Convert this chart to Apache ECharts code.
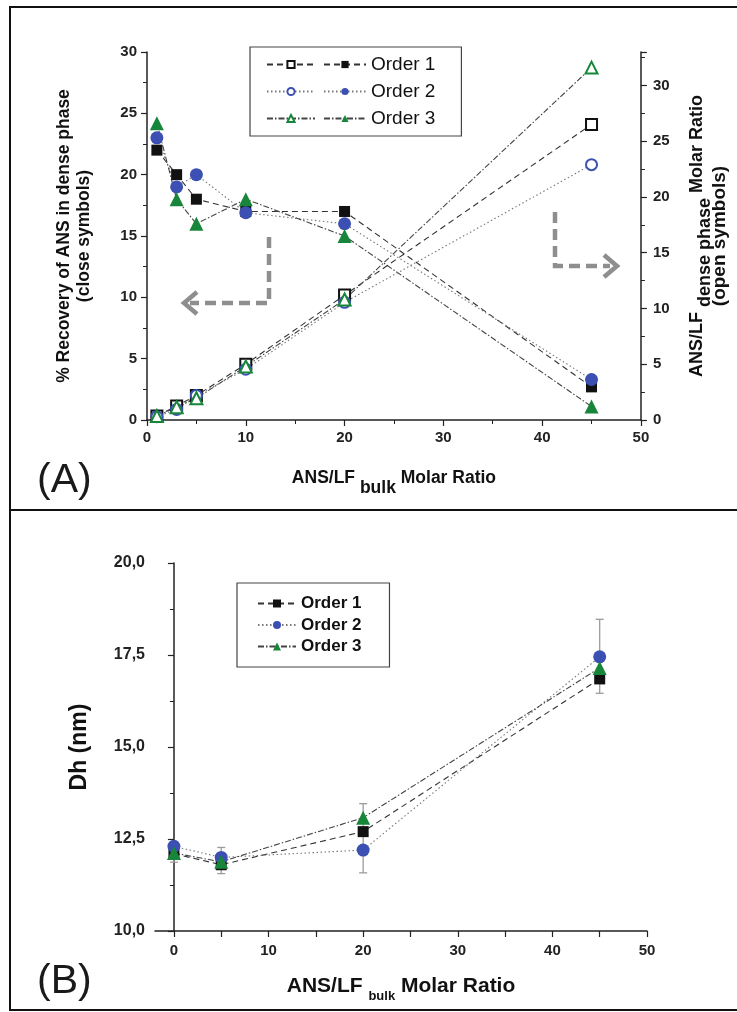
<!DOCTYPE html>
<html>
<head>
<meta charset="utf-8">
<script src="https://cdn.jsdelivr.net/npm/echarts@6/dist/echarts.min.js"></script>
<style>
  html, body { margin: 0; padding: 0; background: #fff; }
  #container { width: 737px; height: 1012px; }
</style>
</head>
<body>
<div id="container"></div>
<script>
// ---- panel A : recovery (closed) and dense phase ratio (open)
var xTop = [1, 3, 5, 10, 20, 45];
var recovery1 = [22, 20, 18, 17, 17, 2.7];
var recovery2 = [23, 19, 20, 16.9, 16, 3.3];
var recovery3 = [24.2, 18, 16, 18, 15, 1.1];
var dense1 = [0.35, 1.25, 2.2, 5.0, 11.2, 26.5];
var dense2 = [0.3, 0.95, 2.2, 4.55, 10.55, 22.9];
var dense3 = [0.35, 1.15, 1.95, 4.8, 10.8, 31.6];

// ---- panel B : hydrodynamic diameter
var xBottom = [0, 5, 20, 45];
var dh1 = [12.1, 11.8, 12.7, 16.85];
var dh2 = [12.3, 12.0, 12.2, 17.45];
var dh3 = [12.12, 11.88, 13.08, 17.15];
var errLow = [11.87, 11.56, 11.58, 16.46];
var errHigh = [12.42, 12.27, 13.46, 18.47];

var xLabelsBottom = [0, 10, 20, 30, 40, 50];
var xTicksBottom = [0, 5, 10, 15, 20, 25, 30, 35, 40, 45, 50];

var seriesNames = ['Order 1', 'Order 2', 'Order 3'];
var openNames = ['Order 1 open', 'Order 2 open', 'Order 3 open'];

function pairs(xs, ys) {
    return xs.map(function (x, i) { return [x, ys[i]]; });
}

var myChart = echarts.init(document.getElementById('container'));

var FONT = 'Liberation Sans, Arial, sans-serif';
var black = '#111';
var blue = '#3c50b4';
var green = '#17863a';
var dash1 = [6, 4];
var dot2 = [1.5, 2.5];
var dashdot3 = [6, 2, 1.5, 2];

var axisLine = { show: true, lineStyle: { color: '#222', width: 1.5 } };
var tickLbl = { fontFamily: FONT, fontWeight: 'bold', fontSize: 15, color: '#222' };

function lineSeries(name, xi, yi, data, symbol, size, color, lineColor, dash) {
    return {
        name: name,
        type: 'line',
        xAxisIndex: xi,
        yAxisIndex: yi,
        data: data,
        symbol: symbol,
        symbolSize: size,
        itemStyle: { color: color, borderWidth: symbol.indexOf('empty') === 0 ? 1.5 : 0 },
        lineStyle: { color: lineColor, width: 1.1, type: dash },
        z: 3
    };
}

var option = {
    animation: false,
    backgroundColor: '#fff',
    grid: [
        { left: 147, top: 52, width: 495, height: 368 },
        { left: 155, top: 563, width: 492, height: 368 }
    ],
    xAxis: [
        {
            gridIndex: 0, type: 'value', min: 0, max: 50, interval: 10,
            axisLine: axisLine,
            axisTick: { length: 6, lineStyle: { color: '#222', width: 1.2 } },
            minorTick: { show: true, splitNumber: 2, length: 4, lineStyle: { color: '#222' } },
            splitLine: { show: false },
            axisLabel: Object.assign({ margin: 10 }, tickLbl),
            name: '{a|ANS/LF }{s|bulk}{a| Molar Ratio}',
            nameLocation: 'middle',
            nameGap: 49,
            nameTextStyle: {
                rich: {
                    a: { fontFamily: FONT, fontWeight: 'bold', fontSize: 17.5, color: '#111', lineHeight: 19 },
                    s: { fontFamily: FONT, fontWeight: 'bold', fontSize: 17.5, color: '#111', lineHeight: 19, padding: [20, 0, 0, 0] }
                }
            }
        },
        {
            gridIndex: 1, type: 'value', min: -2, max: 50,
            axisLine: axisLine,
            axisTick: { length: 6, customValues: xTicksBottom, lineStyle: { color: '#222', width: 1.2 } },
            splitLine: { show: false },
            axisLabel: Object.assign({ margin: 12, customValues: xLabelsBottom }, tickLbl),
            name: '{a|ANS/LF }{s|bulk}{a| Molar Ratio}',
            nameLocation: 'middle',
            nameGap: 43,
            nameTextStyle: {
                rich: {
                    a: { fontFamily: FONT, fontWeight: 'bold', fontSize: 21, color: '#111', lineHeight: 24 },
                    s: { fontFamily: FONT, fontWeight: 'bold', fontSize: 13, color: '#111', lineHeight: 15, padding: [20, 0, 0, 0] }
                }
            }
        }
    ],
    yAxis: [
        {
            gridIndex: 0, type: 'value', min: 0, max: 30, interval: 5,
            axisLine: axisLine,
            axisTick: { length: 6, lineStyle: { color: '#222', width: 1.2 } },
            minorTick: { show: true, splitNumber: 2, length: 4, lineStyle: { color: '#222' } },
            splitLine: { show: false },
            axisLabel: Object.assign({ margin: 10 }, tickLbl),
            name: '% Recovery of ANS in dense phase\n(close symbols)',
            nameLocation: 'middle',
            nameRotate: 90,
            nameGap: 53,
            nameTextStyle: { fontFamily: FONT, fontWeight: 'bold', fontSize: 17.5, color: '#111', lineHeight: 20 }
        },
        {
            gridIndex: 0, type: 'value', position: 'right', min: 0, max: 33, interval: 5,
            axisLine: axisLine,
            axisTick: { length: 6, lineStyle: { color: '#222', width: 1.2 } },
            minorTick: { show: true, splitNumber: 2, length: 4, lineStyle: { color: '#222' } },
            splitLine: { show: false },
            axisLabel: Object.assign({ margin: 12, showMaxLabel: false }, tickLbl),
            name: '{a|ANS/LF }{s|dense phase}{a| Molar Ratio}\n{b|(open symbols)}',
            nameLocation: 'middle',
            nameRotate: 90,
            nameGap: 28,
            nameTextStyle: {
                rich: {
                    a: { fontFamily: FONT, fontWeight: 'bold', fontSize: 18, color: '#111', lineHeight: 22 },
                    s: { fontFamily: FONT, fontWeight: 'bold', fontSize: 18, color: '#111', lineHeight: 22, padding: [16, 0, 0, 0] },
                    b: { fontFamily: FONT, fontWeight: 'bold', fontSize: 19, color: '#111', lineHeight: 22 }
                }
            }
        },
        {
            gridIndex: 1, type: 'value', min: 10, max: 20, interval: 2.5,
            axisLine: axisLine,
            axisTick: { length: 6, lineStyle: { color: '#222', width: 1.2 } },
            minorTick: { show: true, splitNumber: 2, length: 4, lineStyle: { color: '#222' } },
            splitLine: { show: false },
            axisLabel: Object.assign({
                margin: 10,
                formatter: function (v) { return v.toFixed(1).replace('.', ','); }
            }, tickLbl, { fontSize: 16 }),
            name: 'Dh (nm)',
            nameLocation: 'middle',
            nameRotate: 90,
            nameGap: 62,
            nameTextStyle: { fontFamily: FONT, fontWeight: 'bold', fontSize: 23, color: '#111', lineHeight: 26 }
        }
    ],
    legend: [
        {
            // closed symbols with text, this one carries the box
            data: seriesNames,
            orient: 'vertical',
            left: 250,
            top: 47,
            padding: [8, 26, 8, 73],
            itemWidth: 42,
            itemHeight: 9,
            itemGap: 8,
            borderColor: '#444',
            borderWidth: 1.2,
            textStyle: { fontFamily: FONT, fontSize: 19, color: '#111', lineHeight: 17 },
            selectedMode: false
        },
        {
            // open symbols, no text
            data: openNames,
            orient: 'vertical',
            left: 266,
            top: 55,
            padding: 0,
            itemWidth: 48,
            itemHeight: 9,
            itemGap: 8,
            formatter: function () { return ' '; },
            textStyle: { fontFamily: FONT, fontSize: 19, color: '#111', lineHeight: 17 },
            selectedMode: false
        },
        {
            data: seriesNames,
            orient: 'vertical',
            left: 237,
            top: 583,
            padding: [12, 28, 12, 20],
            itemWidth: 38,
            itemHeight: 10,
            itemGap: 4.5,
            borderColor: '#444',
            borderWidth: 1.2,
            textStyle: { fontFamily: FONT, fontWeight: 'bold', fontSize: 17, color: '#111', lineHeight: 17 },
            selectedMode: false
        }
    ],
    graphic: [
        // panel frames
        { type: 'rect', shape: { x: 10, y: 7, width: 740, height: 503 }, style: { fill: 'none', stroke: '#111', lineWidth: 2 }, z: 0 },
        { type: 'rect', shape: { x: 10, y: 510, width: 740, height: 500 }, style: { fill: 'none', stroke: '#111', lineWidth: 2 }, z: 0 },
        { type: 'text', left: 37, top: 460, style: { text: '(A)', font: '41px ' + FONT, fill: '#1a1a1a' } },
        { type: 'text', left: 37, top: 961, style: { text: '(B)', font: '41px ' + FONT, fill: '#1a1a1a' } },
        // guide arrows
        { type: 'polyline', shape: { points: [[269, 237], [269, 303], [190, 303]] }, style: { stroke: '#8e8e8e', lineWidth: 4.5, lineDash: [11, 6], fill: 'none' }, z: 1 },
        { type: 'polyline', shape: { points: [[197, 292], [184, 303], [197, 314]] }, style: { stroke: '#8e8e8e', lineWidth: 4.5, fill: 'none' }, z: 1 },
        { type: 'polyline', shape: { points: [[555, 212], [555, 266], [610, 266]] }, style: { stroke: '#8e8e8e', lineWidth: 4.5, lineDash: [11, 6], fill: 'none' }, z: 1 },
        { type: 'polyline', shape: { points: [[604, 255], [617, 266], [604, 277]] }, style: { stroke: '#8e8e8e', lineWidth: 4.5, fill: 'none' }, z: 1 }
    ],
    series: [
        lineSeries('Order 1', 0, 0, pairs(xTop, recovery1), 'rect', 11, black, '#333', dash1),
        lineSeries('Order 2', 0, 0, pairs(xTop, recovery2), 'circle', 13, blue, '#777', dot2),
        lineSeries('Order 3', 0, 0, pairs(xTop, recovery3), 'triangle', 14, green, '#444', dashdot3),
        lineSeries('Order 1 open', 0, 1, pairs(xTop, dense1), 'emptyRect', 11, black, '#333', dash1),
        lineSeries('Order 2 open', 0, 1, pairs(xTop, dense2), 'emptyCircle', 11, blue, '#777', dot2),
        lineSeries('Order 3 open', 0, 1, pairs(xTop, dense3), 'emptyTriangle', 12, green, '#444', dashdot3),
        {
            type: 'custom',
            xAxisIndex: 1,
            yAxisIndex: 2,
            data: xBottom.map(function (x, i) { return [x, errLow[i], errHigh[i]]; }),
            encode: { x: 0, y: [1, 2] },
            renderItem: function (params, api) {
                var lo = api.coord([api.value(0), api.value(1)]);
                var hi = api.coord([api.value(0), api.value(2)]);
                var w = 4;
                var st = { stroke: '#9c9c9c', lineWidth: 1.3 };
                return {
                    type: 'group',
                    children: [
                        { type: 'line', shape: { x1: lo[0], y1: lo[1], x2: hi[0], y2: hi[1] }, style: st },
                        { type: 'line', shape: { x1: lo[0] - w, y1: lo[1], x2: lo[0] + w, y2: lo[1] }, style: st },
                        { type: 'line', shape: { x1: hi[0] - w, y1: hi[1], x2: hi[0] + w, y2: hi[1] }, style: st }
                    ]
                };
            },
            z: 2
        },
        lineSeries('Order 1', 1, 2, pairs(xBottom, dh1), 'rect', 11, black, '#333', dash1),
        lineSeries('Order 2', 1, 2, pairs(xBottom, dh2), 'circle', 13, blue, '#777', dot2),
        lineSeries('Order 3', 1, 2, pairs(xBottom, dh3), 'triangle', 14, green, '#444', dashdot3)
    ]
};

myChart.setOption(option);
</script>
</body>
</html>
